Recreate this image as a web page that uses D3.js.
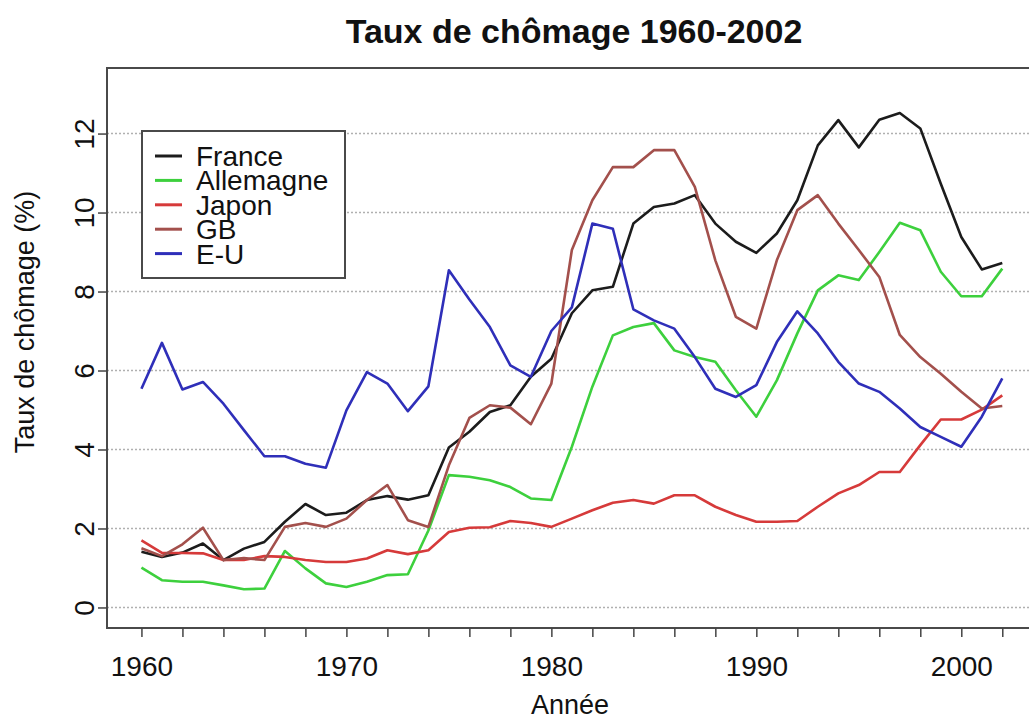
<!DOCTYPE html>
<html>
<head>
<meta charset="utf-8">
<script src="https://cdn.jsdelivr.net/npm/d3@7"></script>
<style>
  body { margin: 0; background: #fff; }
  text { font-family: "Liberation Sans", Arial, sans-serif; fill: #111; }
</style>
</head>
<body>
<svg id="chart" width="1029" height="722"></svg>
<script>
// annees
const years = [1960,1961,1962,1963,1964,1965,1966,1967,1968,1969,
               1970,1971,1972,1973,1974,1975,1976,1977,1978,1979,
               1980,1981,1982,1983,1984,1985,1986,1987,1988,1989,
               1990,1991,1992,1993,1994,1995,1996,1997,1998,1999,
               2000,2001,2002];

// taux de chomage (%)
const france = [1.41,1.28,1.39,1.62,1.20,1.49,1.66,2.17,2.62,2.34,
                2.40,2.72,2.82,2.73,2.84,4.05,4.45,4.95,5.12,5.84,
                6.30,7.45,8.03,8.12,9.72,10.14,10.23,10.44,9.72,9.26,
                8.98,9.47,10.31,11.70,12.34,11.65,12.35,12.52,12.13,10.73,
                9.38,8.56,8.72];
const allemagne = [1.01,0.69,0.65,0.65,0.56,0.46,0.48,1.43,0.99,0.61,
                   0.52,0.65,0.82,0.84,1.95,3.35,3.31,3.22,3.05,2.76,
                   2.72,4.07,5.59,6.89,7.10,7.20,6.51,6.34,6.22,5.50,
                   4.83,5.75,6.94,8.03,8.41,8.29,9.00,9.74,9.55,8.50,
                   7.88,7.88,8.58];
const japon = [1.70,1.38,1.38,1.37,1.20,1.20,1.30,1.28,1.20,1.15,
               1.15,1.24,1.45,1.35,1.45,1.91,2.02,2.03,2.19,2.14,
               2.04,2.25,2.46,2.65,2.72,2.63,2.84,2.84,2.55,2.34,
               2.17,2.17,2.19,2.55,2.89,3.10,3.43,3.43,4.11,4.76,
               4.76,5.01,5.37];
const gb = [1.50,1.30,1.60,2.02,1.20,1.25,1.20,2.04,2.14,2.04,
            2.25,2.72,3.10,2.21,2.04,3.60,4.80,5.12,5.06,4.64,
            5.67,9.05,10.31,11.15,11.15,11.58,11.58,10.65,8.79,7.36,
            7.06,8.79,10.06,10.44,9.72,9.05,8.37,6.90,6.34,5.92,
            5.46,5.04,5.10];
const eu = [5.54,6.70,5.52,5.71,5.16,4.49,3.83,3.83,3.64,3.54,
            4.99,5.96,5.67,4.97,5.60,8.54,7.80,7.10,6.13,5.84,
            7.00,7.60,9.72,9.59,7.55,7.27,7.06,6.34,5.54,5.33,
            5.63,6.72,7.50,6.94,6.22,5.67,5.46,5.04,4.57,4.32,
            4.07,4.83,5.80];

const seriesNames = ["France", "Allemagne", "Japon", "GB", "E-U"];
const seriesValues = [france, allemagne, japon, gb, eu];
const yTicks = [0, 2, 4, 6, 8, 10, 12];
const xTicks = [1960,1962,1964,1966,1968,1970,1972,1974,1976,1978,1980,
                1982,1984,1986,1988,1990,1992,1994,1996,1998,2000,2002];
const xLabels = [1960, 1970, 1980, 1990, 2000];

const colors = ["#1c1c1c", "#3dd03d", "#d63a3a", "#a3504c", "#2f2fb9"];

const svg = d3.select("#chart");

// zone du graphique
const plotLeft = 107, plotTop = 68, plotRight = 1040, plotBottom = 628;

const x = d3.scaleLinear().domain([1958.32, 2003.84]).range([plotLeft, plotRight]);
const y = d3.scaleLinear().domain([-0.52, 13.66]).range([plotBottom, plotTop]);

// grille pointillee
svg.append("g")
  .selectAll("line")
  .data(yTicks)
  .join("line")
  .attr("x1", plotLeft).attr("x2", plotRight)
  .attr("y1", d => y(d)).attr("y2", d => y(d))
  .attr("stroke", "#b0b0b0")
  .attr("stroke-width", 1.5)
  .attr("stroke-dasharray", "2,2");

// courbes
const line = d3.line()
  .x((d, i) => x(years[i]))
  .y(d => y(d));

svg.append("g")
  .selectAll("path")
  .data(seriesValues)
  .join("path")
  .attr("d", line)
  .attr("fill", "none")
  .attr("stroke", (d, i) => colors[i])
  .attr("stroke-width", 2.6)
  .attr("stroke-linejoin", "round");

// cadre
svg.append("rect")
  .attr("x", plotLeft).attr("y", plotTop)
  .attr("width", plotRight - plotLeft).attr("height", plotBottom - plotTop)
  .attr("fill", "none")
  .attr("stroke", "#4a4a4a")
  .attr("stroke-width", 2);

// axe x
const xAxis = svg.append("g")
  .attr("transform", `translate(0,${plotBottom})`)
  .call(d3.axisBottom(x)
    .tickValues(xTicks)
    .tickSize(9)
    .tickFormat(d => xLabels.includes(d) ? d : ""));
xAxis.select(".domain").remove();
xAxis.selectAll(".tick line").attr("stroke", "#444").attr("stroke-width", 1.5);
xAxis.selectAll(".tick text")
  .attr("y", 0).attr("dy", null)
  .attr("transform", "translate(0,48)")
  .style("font-size", "28px")
  .style("font-family", "'Liberation Sans', Arial, sans-serif")
  .attr("fill", "#111");

// axe y
const yAxis = svg.append("g")
  .attr("transform", `translate(${plotLeft},0)`)
  .call(d3.axisLeft(y).tickValues(yTicks).tickSize(9));
yAxis.select(".domain").remove();
yAxis.selectAll(".tick line").attr("stroke", "#444").attr("stroke-width", 1.5);
yAxis.selectAll(".tick text")
  .attr("x", 0).attr("dy", null)
  .attr("text-anchor", "middle")
  .attr("transform", "translate(-13,0) rotate(-90)")
  .style("font-size", "28px")
  .style("font-family", "'Liberation Sans', Arial, sans-serif")
  .attr("fill", "#111");

// titres
svg.append("text")
  .attr("x", 574).attr("y", 43)
  .attr("text-anchor", "middle")
  .style("font-size", "34px")
  .style("font-weight", "bold")
  .text("Taux de chômage 1960-2002");

svg.append("text")
  .attr("x", 570).attr("y", 714)
  .attr("text-anchor", "middle")
  .style("font-size", "27px")
  .text("Année");

svg.append("text")
  .attr("transform", "translate(34,322) rotate(-90)")
  .attr("text-anchor", "middle")
  .style("font-size", "27px")
  .text("Taux de chômage (%)");

// legende
const legend = svg.append("g").attr("transform", "translate(142,131)");
legend.append("rect")
  .attr("width", 203).attr("height", 147)
  .attr("fill", "#fff")
  .attr("stroke", "#4a4a4a")
  .attr("stroke-width", 2);

const rows = legend.selectAll("g.row")
  .data(seriesNames)
  .join("g")
  .attr("class", "row")
  .attr("transform", (d, i) => `translate(0,${25 + i * 24.4})`);

rows.append("line")
  .attr("x1", 13).attr("x2", 40)
  .attr("stroke", (d, i) => colors[i])
  .attr("stroke-width", 3);

rows.append("text")
  .attr("x", 54).attr("y", 10)
  .style("font-size", "28px")
  .text(d => d);
</script>
</body>
</html>
